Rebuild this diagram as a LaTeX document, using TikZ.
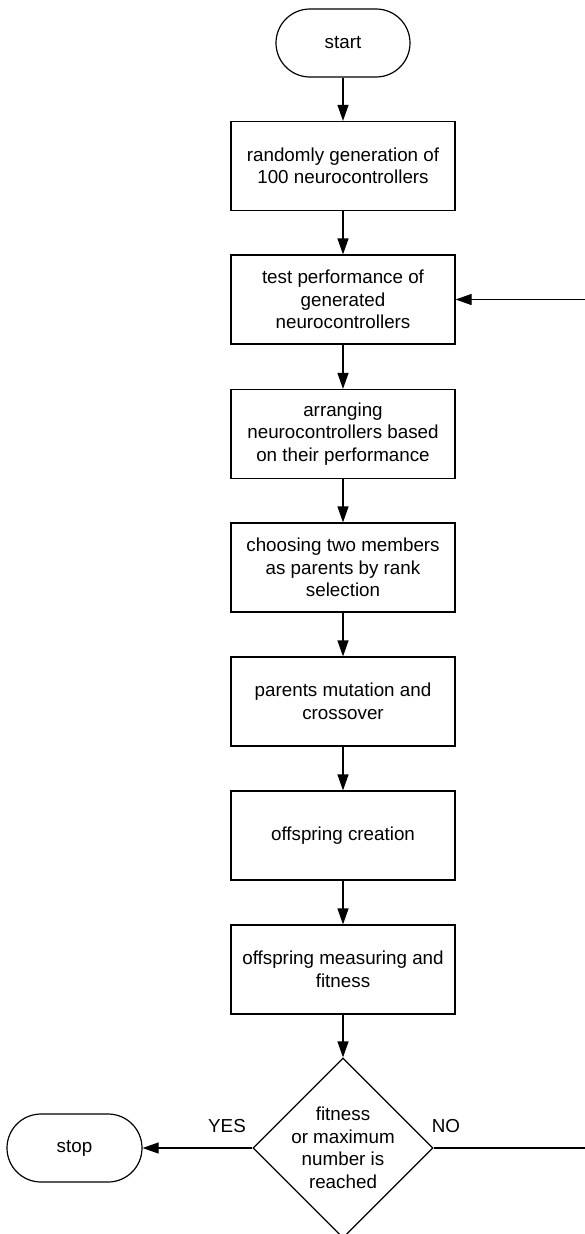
\documentclass[tikz,border=0pt]{standalone}
\usepackage{fontspec}
\setmainfont{Liberation Sans}
\usetikzlibrary{arrows.meta,shapes.geometric}
\newcommand\diagfont{\fontsize{18.8}{22.5}\selectfont}
\tikzset{
  procbox/.style={draw, line width=1.2pt, minimum width=224pt, minimum height=89pt, inner sep=2pt, align=center, font=\diagfont},
  termnode/.style={draw, line width=1.2pt, rounded corners=34pt, minimum width=134pt, minimum height=68pt, inner sep=0pt, font=\diagfont},
  decnode/.style={draw, diamond, aspect=1, line width=1.2pt, minimum width=180pt, minimum height=180pt, inner sep=0pt},
  arr/.style={line width=1.2pt, -{Triangle[length=16pt,width=11pt]}},
  plain/.style={line width=1.2pt},
  lbl/.style={font=\diagfont, inner sep=0pt}
}
\begin{document}
\begin{tikzpicture}[x=1pt,y=-1pt]
\useasboundingbox (0,0) rectangle (585,1234);
\fill[white] (0,0) rectangle (585,1234);
\node[termnode] (start) at (343,43) {start};
\node[procbox] (b1) at (343,166) {randomly generation of\\100 neurocontrollers};
\node[procbox] (b2) at (343,299.5) {test performance of\\generated\\neurocontrollers};
\node[procbox] (b3) at (343,434) {arranging\\neurocontrollers based\\on their performance};
\node[procbox] (b4) at (343,567.5) {choosing two members\\as parents by rank\\selection};
\node[procbox] (b5) at (343,701.5) {parents mutation and\\crossover};
\node[procbox] (b6) at (343,835.5) {offspring creation};
\node[procbox] (b7) at (343,969.5) {offspring measuring and\\fitness};
\node[decnode, label={[font=\diagfont, align=center, inner sep=0pt]center:fitness\\or maximum\\number is\\reached}] (d) at (343,1148) {};
\node[termnode, minimum width=135pt] (stop) at (74.5,1148) {stop};
\coordinate (noend) at (585,1148);
\coordinate (loopin) at (585,299.5);
\draw[arr] (start) -- (b1);
\draw[arr] (b1) -- (b2);
\draw[arr] (b2) -- (b3);
\draw[arr] (b3) -- (b4);
\draw[arr] (b4) -- (b5);
\draw[arr] (b5) -- (b6);
\draw[arr] (b6) -- (b7);
\draw[arr] (b7) -- (d.north);
\draw[arr] (d.west) -- (stop.east);
\draw[plain] (d.east) -- (noend);
\draw[arr] (loopin) -- (b2.east);
\node[lbl] (yes) at (227,1126) {YES};
\node[lbl] (no) at (446,1126) {NO};
\end{tikzpicture}
\end{document}
